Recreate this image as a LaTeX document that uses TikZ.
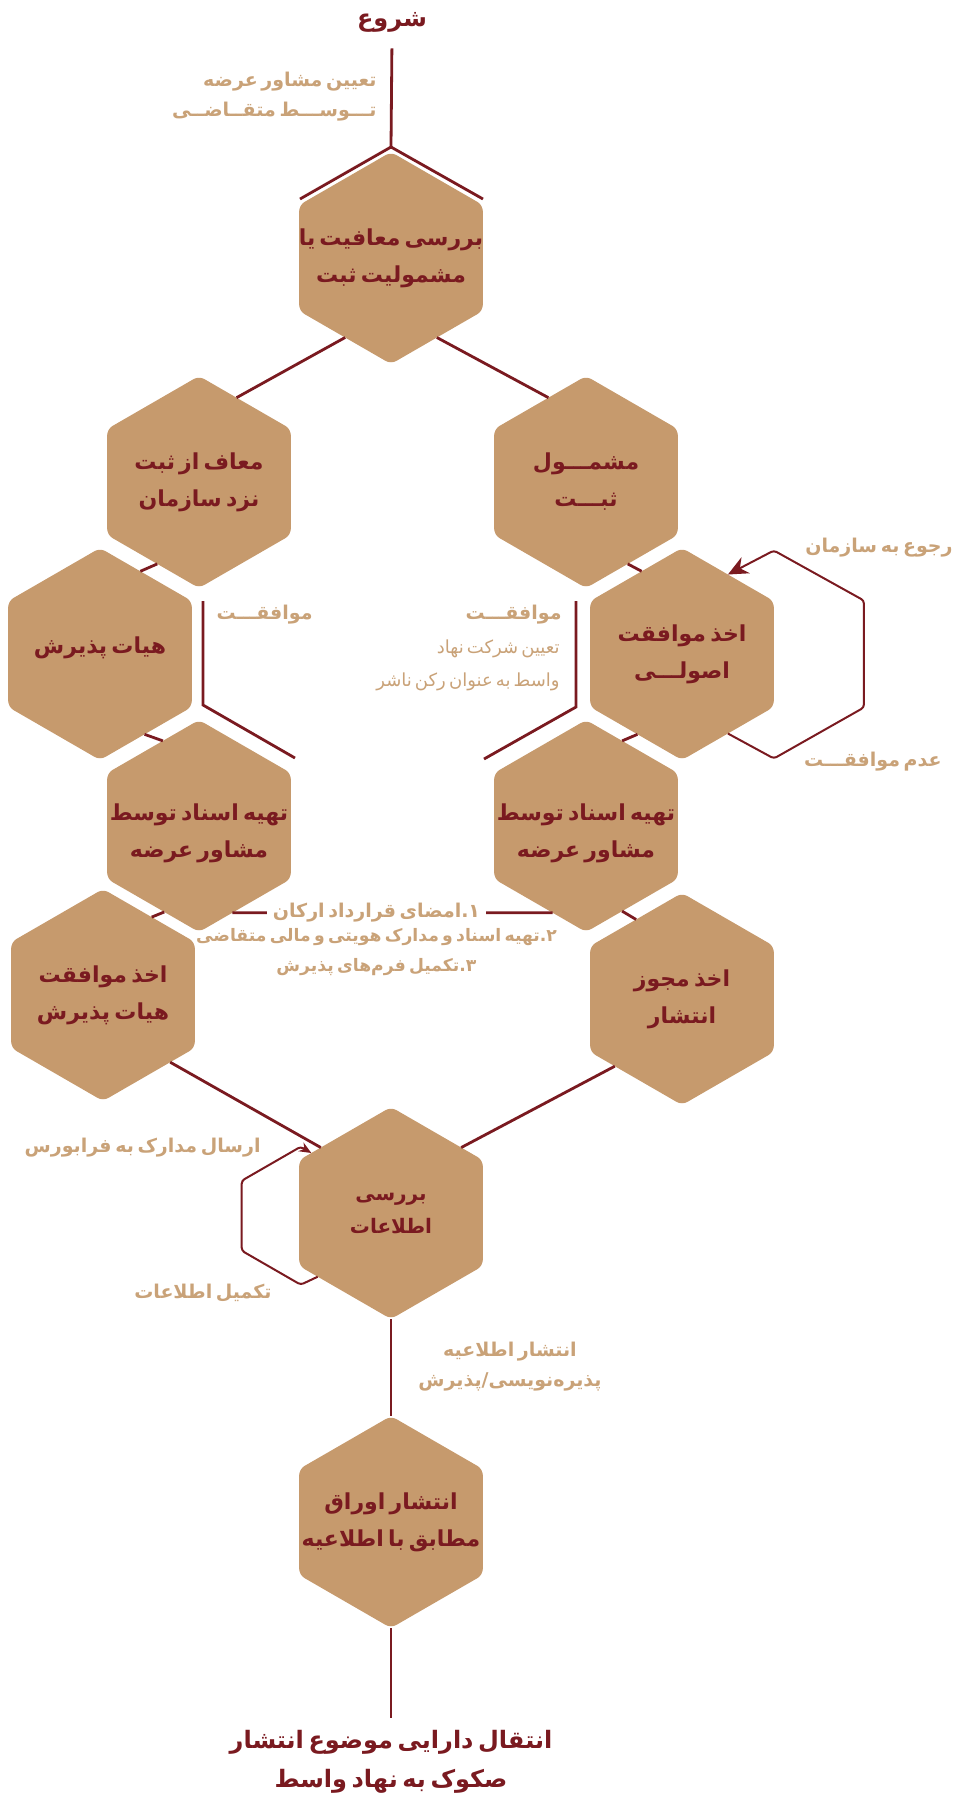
\documentclass[tikz,border=0pt]{standalone}
\usepackage{fontspec}
\usepackage{tikz}
\usetikzlibrary{arrows.meta}
\usetikzlibrary{shapes}
\usetikzlibrary{positioning}
\usetikzlibrary{calc}

\newfontfamily\fa[Script=Arabic,WordSpace=0.55]{DejaVu Sans}
\TeXXeTstate=1
\newcommand{\rl}[1]{\beginR #1\endR}

\definecolor{deepred}{RGB}{122,26,32}
\definecolor{hexfill}{RGB}{198,154,109}
\definecolor{lbltan}{RGB}{201,162,120}

\begin{document}
\begin{tikzpicture}[x=0.5pt,y=-0.5pt]
            \tikzset{hexa/.style={regular polygon, regular polygon sides=6, regular polygon rotate=30,
                        minimum size=106pt, fill=hexfill, rounded corners=3pt, inner sep=0pt, outer sep=0pt},
                    hextxt/.style={font=\fa\bfseries\fontsize{11}{18.5}\selectfont, text=deepred, align=center, inner sep=0pt},
                    lbl/.style={font=\fa\bfseries\fontsize{9.5}{15}\selectfont, text=lbltan, inner sep=1pt},
                    link/.style={draw=deepred, line width=1.4pt},
                    backloop/.style={draw=deepred, line width=1pt, rounded corners=1.5pt},
                    >={Stealth[deepred]}}
            \useasboundingbox (0,0) rectangle (958,1796);
            % hexagons
            \node[hexa] (h1) at (391, 258) {};
            \node[hexa] (h2) at (199, 482) {};
            \node[hexa] (h3) at (586, 482) {};
            \node[hexa] (h4) at (100, 654) {};
            \node[hexa] (h5) at (682, 654) {};
            \node[hexa] (h6) at (199, 826) {};
            \node[hexa] (h7) at (586, 826) {};
            \node[hexa] (h8) at (103, 995) {};
            \node[hexa] (h9) at (682, 999) {};
            \node[hexa] (h10) at (391, 1213) {};
            \node[hexa] (h11) at (391, 1522) {};
            % texts in the hexagons
            \node[hextxt] (t1) at (h1) {\rl{بررسی معافیت یا}\\\rl{مشمولیت ثبت}};
            \node[hextxt] (t2) at (h2) {\rl{معاف از ثبت}\\\rl{نزد سازمان}};
            \node[hextxt] (t3) at (h3) {\rl{مشمـــول}\\\rl{ثبـــت}};
            \node[hextxt] (t4) at (100, 648) {\rl{هیات پذیرش}};
            \node[hextxt] (t5) at (h5) {\rl{اخذ موافقت}\\\rl{اصولـــی}};
            \node[hextxt] (t6) at (199, 833) {\rl{تهیه اسناد توسط}\\\rl{مشاور عرضه}};
            \node[hextxt] (t7) at (586, 833) {\rl{تهیه اسناد توسط}\\\rl{مشاور عرضه}};
            \node[hextxt] (t8) at (h8) {\rl{اخذ موافقت}\\\rl{هیات پذیرش}};
            \node[hextxt] (t9) at (h9) {\rl{اخذ مجوز}\\\rl{انتشار}};
            \node[hextxt, font=\fa\bfseries\fontsize{10}{16.5}\selectfont] (t10) at (h10) {\rl{بررسی}\\\rl{اطلاعات}};
            \node[hextxt] (t11) at (h11) {\rl{انتشار اوراق}\\\rl{مطابق با اطلاعیه}};
            % start and end
            \node[hextxt, font=\fa\bfseries\fontsize{12}{18}\selectfont, inner sep=3pt] (start) at (392, 22) {\rl{شروع}};
            \node[hextxt, font=\fa\bfseries\fontsize{12}{19.5}\selectfont] (endtxt) at (391, 1762) {\rl{انتقال دارایی موضوع انتشار}\\\rl{صکوک به نهاد واسط}};
            % labels
            \node[lbl, anchor=east, align=right] (l1) at (379, 97) {\rl{تعیین مشاور عرضه}\\\rl{تـــوســـط متقــاضــی}};
            \node[lbl, anchor=east] (l2) at (315, 615) {\rl{موافقـــت}};
            \node[lbl, anchor=east] (l3) at (564, 615) {\rl{موافقـــت}};
            \node[lbl, anchor=east, align=right, font=\fa\fontsize{9}{16.5}\selectfont] (l4) at (562, 665) {\rl{تعیین شرکت نهاد}\\\rl{واسط به عنوان رکن ناشر}};
            \node[lbl, anchor=east] (l5) at (955, 548) {\rl{رجوع به سازمان}};
            \node[lbl, anchor=east] (l6) at (944, 762) {\rl{عدم موافقـــت}};
            \node[lbl, anchor=east] (l7) at (263, 1148) {\rl{ارسال مدارک به فرابورس}};
            \node[lbl, anchor=east] (l8) at (274, 1293) {\rl{تکمیل اطلاعات}};
            \node[lbl, align=center] (l9) at (510, 1367) {\rl{انتشار اطلاعیه}\\\rl{پذیره‌نویسی/پذیرش}};
            % connectors
            \draw[link, shorten <=5pt] (start.south) -- ($(h1.90)+(0,-5)$) coordinate (apex);
            \draw[link] (apex) -- ++(-91,52);
            \draw[link] (apex) -- ++(92,52);
            \draw[link] (h1.240) -- (h2.66);
            \draw[link] (h1.300) -- (h3.114);
            \draw[link] (h2.243) -- (h4.64);
            \draw[link] (h3.297) -- (h5.116);
            \draw[link] (h4.299) -- (h6.113);
            \draw[link] (h5.241) -- (h7.67);
            \draw[link] (h6.248) -- (h8.58);
            \draw[link] (h7.293) -- (h9.120);
            \draw[link] (h8.315) -- (h10.137);
            \draw[link] (h9.225) -- (h10.43);
            \draw[link] (h10.270) -- (h11.90);
            \draw[link, shorten >=6pt] (h11.270) -- (endtxt.north);
            \draw[link] (h2.270) ++(4,13) -- ++(0,104) -- ++(92,53);
            \draw[link] (h3.270) ++(-10,13) -- ++(0,106) -- ++(-92,52);
            \draw[link] (h6.291) -- (h7.249)
                node[lbl, pos=0.45, fill=white, inner xsep=3pt] (s1) {\rl{۱.امضای قرارداد ارکان}};
            \node[lbl, align=center, below=0pt of s1, font=\fa\bfseries\fontsize{8.6}{15}\selectfont] (s2) {\rl{۲.تهیه اسناد و مدارک هویتی و مالی متقاضی}\\\rl{۳.تکمیل فرم‌های پذیرش}};
            % loops back
            \draw[backloop, -{Stealth[length=10pt, width=9pt]}] (h5.300) -- ++(46,25) -- ++(90,-51) -- ++(0,-107) -- ++(-90,-50) -- (h5.60);
            \draw[backloop, -{Stealth[length=6pt, width=5pt]}] (h10.221) -- ++(-17,8) -- ++(-59,-34) -- ++(0,-70) -- ++(59,-34) -- (h10.143);
        \end{tikzpicture}
\end{document}
